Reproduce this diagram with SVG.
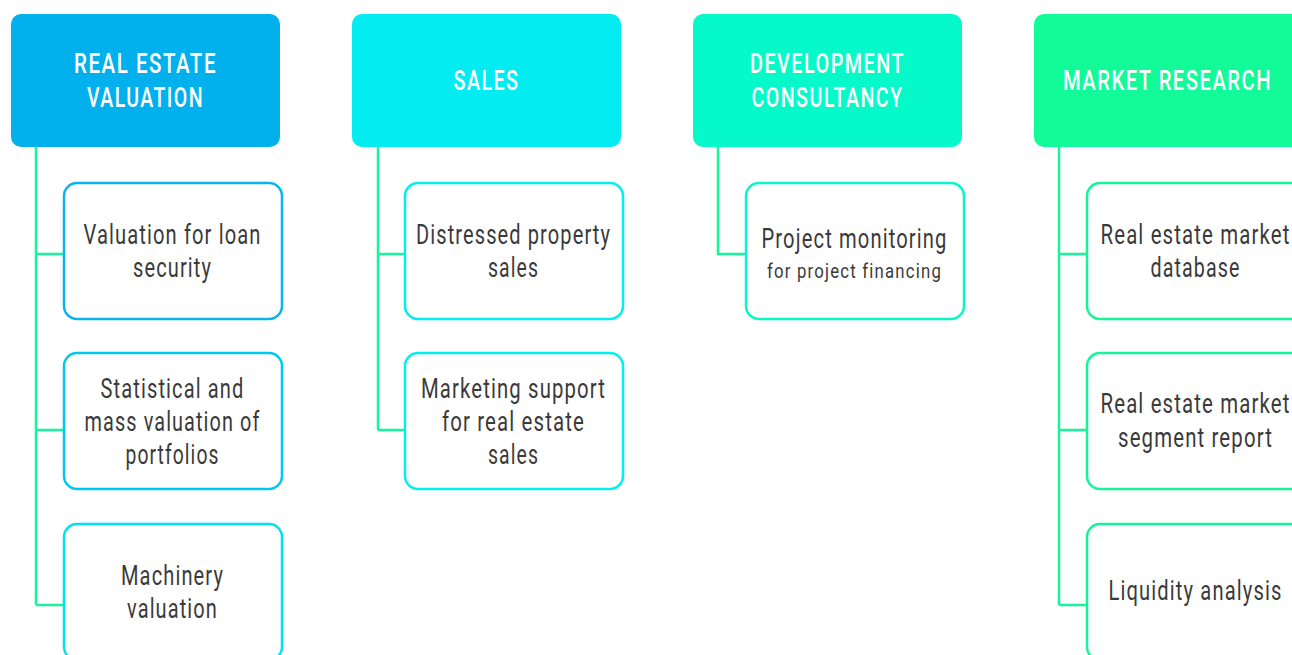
<svg xmlns="http://www.w3.org/2000/svg" width="1292" height="655" viewBox="0 0 1292 655">
<style>
.hdr{stroke:none}
.hd{font-family:Roboto,"Liberation Sans",sans-serif;font-size:27px;font-weight:500;fill:#ffffff;text-anchor:middle;letter-spacing:2px}
.box{fill:#ffffff;stroke-width:2.5}
.tx{font-family:Roboto,"Liberation Sans",sans-serif;font-size:27px;font-weight:400;fill:#3a3a3a;text-anchor:middle;letter-spacing:1.5px}
.sm{font-size:21px}
.conn{fill:none;stroke:#17F49B;stroke-width:2.5}
</style>
<rect width="1292" height="655" fill="#ffffff"/>
<g id="connectors">
<path class="conn" d="M36 147V605M36 254H64M36 430H64M36 605H64"/>
<path class="conn" d="M378 147V430M378 254H405M378 430H405"/>
<path class="conn" d="M718 147V254H746"/>
<path class="conn" d="M1059 147V605M1059 254H1087M1059 430H1087M1059 605H1087"/>
</g>
<g id="h1"><rect class="hdr" x="11" y="14" width="269" height="133" rx="10" fill="#02B0EE"/>
<text class="hd" x="145.5" y="73" textLength="143" lengthAdjust="spacingAndGlyphs">REAL ESTATE</text>
<text class="hd" x="145.5" y="107" textLength="117" lengthAdjust="spacingAndGlyphs">VALUATION</text></g>
<g id="h2"><rect class="hdr" x="352" y="14" width="269" height="133" rx="10" fill="#02ECF2"/>
<text class="hd" x="486.5" y="90" textLength="66" lengthAdjust="spacingAndGlyphs">SALES</text></g>
<g id="h3"><rect class="hdr" x="693" y="14" width="269" height="133" rx="10" fill="#06FAC9"/>
<text class="hd" x="827.5" y="73" textLength="155" lengthAdjust="spacingAndGlyphs">DEVELOPMENT</text>
<text class="hd" x="827.5" y="107" textLength="152" lengthAdjust="spacingAndGlyphs">CONSULTANCY</text></g>
<g id="h4"><rect class="hdr" x="1034" y="14" width="269" height="133" rx="10" fill="#13FA98"/>
<text class="hd" x="1167.5" y="90" textLength="209" lengthAdjust="spacingAndGlyphs">MARKET RESEARCH</text></g>

<g id="c1a"><rect class="box" x="64" y="183" width="218" height="136" rx="13" stroke="#0AB3EE"/>
<text class="tx" x="172.5" y="244" textLength="178" lengthAdjust="spacingAndGlyphs">Valuation for loan</text>
<text class="tx" x="172.5" y="277" textLength="79" lengthAdjust="spacingAndGlyphs">security</text></g>
<g id="c1b"><rect class="box" x="64" y="353" width="218" height="136" rx="13" stroke="#00C8F0"/>
<text class="tx" x="172.5" y="398" textLength="144" lengthAdjust="spacingAndGlyphs">Statistical and</text>
<text class="tx" x="172.5" y="431" textLength="176" lengthAdjust="spacingAndGlyphs">mass valuation of</text>
<text class="tx" x="172.5" y="464" textLength="94" lengthAdjust="spacingAndGlyphs">portfolios</text></g>
<g id="c1c"><rect class="box" x="64" y="524" width="218" height="136" rx="13" stroke="#00E2F2"/>
<text class="tx" x="172.5" y="585" textLength="103" lengthAdjust="spacingAndGlyphs">Machinery</text>
<text class="tx" x="172.5" y="618" textLength="91" lengthAdjust="spacingAndGlyphs">valuation</text></g>

<g id="c2a"><rect class="box" x="405" y="183" width="218" height="136" rx="13" stroke="#00F0EE"/>
<text class="tx" x="513.5" y="244" textLength="195" lengthAdjust="spacingAndGlyphs">Distressed property</text>
<text class="tx" x="513.5" y="277" textLength="51" lengthAdjust="spacingAndGlyphs">sales</text></g>
<g id="c2b"><rect class="box" x="405" y="353" width="218" height="136" rx="13" stroke="#00F0EE"/>
<text class="tx" x="513.5" y="398" textLength="185" lengthAdjust="spacingAndGlyphs">Marketing support</text>
<text class="tx" x="513.5" y="431" textLength="143" lengthAdjust="spacingAndGlyphs">for real estate</text>
<text class="tx" x="513.5" y="464" textLength="51" lengthAdjust="spacingAndGlyphs">sales</text></g>

<g id="c3a"><rect class="box" x="746" y="183" width="218" height="136" rx="13" stroke="#08F6C8"/>
<text class="tx" x="854.5" y="248" textLength="186" lengthAdjust="spacingAndGlyphs">Project monitoring</text>
<text class="tx sm" x="854.5" y="278" textLength="175" lengthAdjust="spacingAndGlyphs">for project financing</text></g>

<g id="c4a"><rect class="box" x="1087" y="183" width="218" height="136" rx="13" stroke="#14F59A"/>
<text class="tx" x="1195.5" y="244" textLength="190" lengthAdjust="spacingAndGlyphs">Real estate market</text>
<text class="tx" x="1195.5" y="277" textLength="90" lengthAdjust="spacingAndGlyphs">database</text></g>
<g id="c4b"><rect class="box" x="1087" y="353" width="218" height="136" rx="13" stroke="#14F59A"/>
<text class="tx" x="1195.5" y="413" textLength="190" lengthAdjust="spacingAndGlyphs">Real estate market</text>
<text class="tx" x="1195.5" y="447" textLength="155" lengthAdjust="spacingAndGlyphs">segment report</text></g>
<g id="c4c"><rect class="box" x="1087" y="524" width="218" height="136" rx="13" stroke="#14F59A"/>
<text class="tx" x="1195.5" y="600" textLength="174" lengthAdjust="spacingAndGlyphs">Liquidity analysis</text></g>
</svg>
